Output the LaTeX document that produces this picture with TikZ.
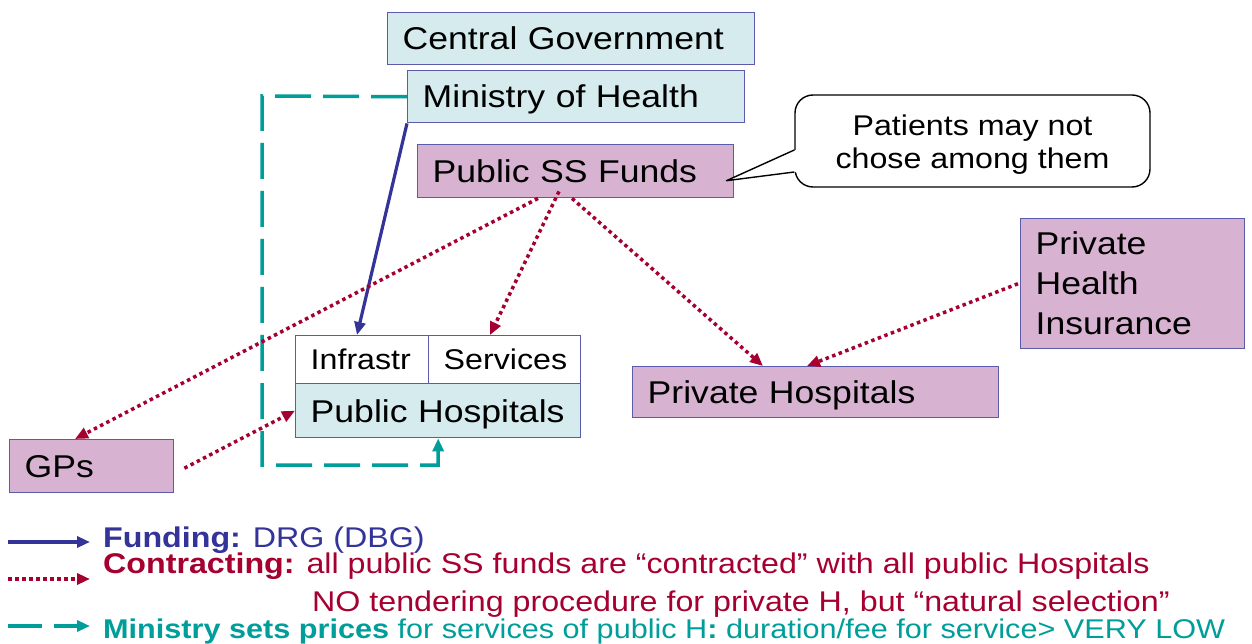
\documentclass[tikz,border=0pt]{standalone}
\usepackage{fontspec}
\setmainfont[FakeStretch=1.13]{Liberation Sans}
\usetikzlibrary{arrows.meta}
\definecolor{cyanfill}{HTML}{D5EBEE}
\definecolor{pinkfill}{HTML}{D7B3D1}
\definecolor{boxline}{HTML}{5B5BAA}
\definecolor{fundblue}{HTML}{333399}
\definecolor{contractred}{HTML}{A50030}
\definecolor{priceteal}{HTML}{009E9A}
\begin{document}
\begin{tikzpicture}[x=1pt,y=-1pt,
  basebox/.style={draw=boxline, line width=1.4pt, anchor=north west,
    inner xsep=15pt, inner ysep=0pt, align=left},
  bigtext/.style={font=\fontsize{31.5}{40}\selectfont, text height=22.6pt, text depth=0pt},
  midtext/.style={font=\fontsize{28.5}{34}\selectfont, text height=20.4pt, text depth=0pt},
  tip/.style={-{Triangle[length=13pt,width=11pt]}},
  fundline/.style={draw=fundblue, line width=3.2pt, tip},
  contractline/.style={draw=contractred, line width=3.5pt, dash pattern=on 3.5pt off 3.5pt, tip},
  priceline/.style={draw=priceteal, line width=3.5pt, dash pattern=on 36pt off 12pt, tip},
  legendtext/.style={anchor=base west, inner sep=0pt, font=\fontsize{28.5}{34}\selectfont}]

\fill[white] (0,0) rectangle (1252,644);
\useasboundingbox (0,0) rectangle (1252,644);

% actors
\node[basebox, bigtext, fill=cyanfill, minimum height=52pt, text width=337pt] (cg) at (387,12) {Central Government};
\node[basebox, bigtext, fill=cyanfill, minimum height=52pt, text width=307pt] (moh) at (407,70) {Ministry of Health};
\node[basebox, bigtext, fill=pinkfill, minimum height=53pt, text width=286pt] (fund) at (417,144) {Public SS Funds};
\node[basebox, fill=pinkfill, minimum height=130pt, text width=194pt,
  font=\fontsize{31.5}{40}\selectfont] (phi) at (1020,218) {Private\\Health\\Insurance};
\node[basebox, bigtext, fill=pinkfill, minimum height=51pt, text width=336pt] (priv) at (632,366) {Private Hospitals};
\node[basebox, midtext, fill=white, minimum height=48pt, text width=103pt] (infra) at (295,335) {Infrastr};
\node[basebox, midtext, fill=white, minimum height=48pt, text width=122pt] (serv) at (428,335) {Services};
\node[basebox, bigtext, fill=cyanfill, minimum height=54pt, text width=255pt] (pub) at (295,383) {Public Hospitals};
\node[basebox, bigtext, fill=pinkfill, minimum height=53pt, text width=134pt] (gps) at (9,439) {GPs};

% speech bubble
\node[draw=black, line width=1.4pt, fill=white, rounded corners=18pt,
  minimum width=355pt, minimum height=92pt, inner sep=0pt] (callout) at (972.5,141) {};
\node[align=center, inner sep=0pt, font=\fontsize{28.5}{33}\selectfont]
  (callouttext) at ([yshift=-4pt]callout.center) {Patients may not\\chose among them};
\coordinate (ctip) at ([xshift=-8pt,yshift=-9.5pt]fund.east);
\fill[white] (ctip) -- ([xshift=1.5pt,yshift=-9pt]callout.west) -- ([xshift=1.5pt,yshift=-31pt]callout.west) -- cycle;
\draw[line width=1.4pt, line join=round] ([yshift=-9pt]callout.west) -- (ctip) -- ([yshift=-31pt]callout.west);

% ministry sets prices
\coordinate (pricetl) at (262,96);
\coordinate (pricebl) at (262,465);
\draw[priceline] (moh.west) -- (pricetl) -- (pricebl) -| (pub.south);

% funding
\draw[fundline] (moh.south west) -- ([xshift=62pt]infra.north west);

% contracting
\draw[contractline] ([xshift=121pt]fund.south west) -- ([xshift=66pt]gps.north west);
\draw[contractline] ([xshift=142pt,yshift=7pt]fund.south west) -- ([xshift=62pt]serv.north west);
\draw[contractline] ([xshift=155pt]fund.south west) -- ([xshift=131pt]priv.north west);
\draw[contractline] ([xshift=-2pt]phi.west) -- ([xshift=175pt]priv.north west);
\draw[contractline] ([xshift=10pt,yshift=-2pt]gps.east) -- (pub.west);

% legend
\coordinate (lfa) at (8,542);   \coordinate (lfb) at (90,542);
\coordinate (lca) at (8,579);   \coordinate (lcb) at (90,579);
\coordinate (lpa) at (8,626);   \coordinate (lpb) at (90,626);
\draw[fundline] (lfa) -- (lfb);
\draw[contractline] (lca) -- (lcb);
\draw[priceline, dash pattern=on 34pt off 12pt] (lpa) -- (lpb);
\node[legendtext, text=fundblue] (lfund) at (103,547) {\textbf{Funding:} DRG (DBG)};
\node[legendtext, text=contractred] (lcon) at (103,573) {\textbf{Contracting:} all public SS funds are “contracted” with all public Hospitals};
\node[legendtext, text=contractred] (lcon2) at (312,611) {NO tendering procedure for private H, but “natural selection”};
\node[legendtext, text=priceteal, font=\fontsize{27.1}{34}\selectfont] (lprice) at (103,638) {\textbf{Ministry sets prices} for services of public H\textbf{:} duration/fee for service> VERY LOW};
\end{tikzpicture}
\end{document}
